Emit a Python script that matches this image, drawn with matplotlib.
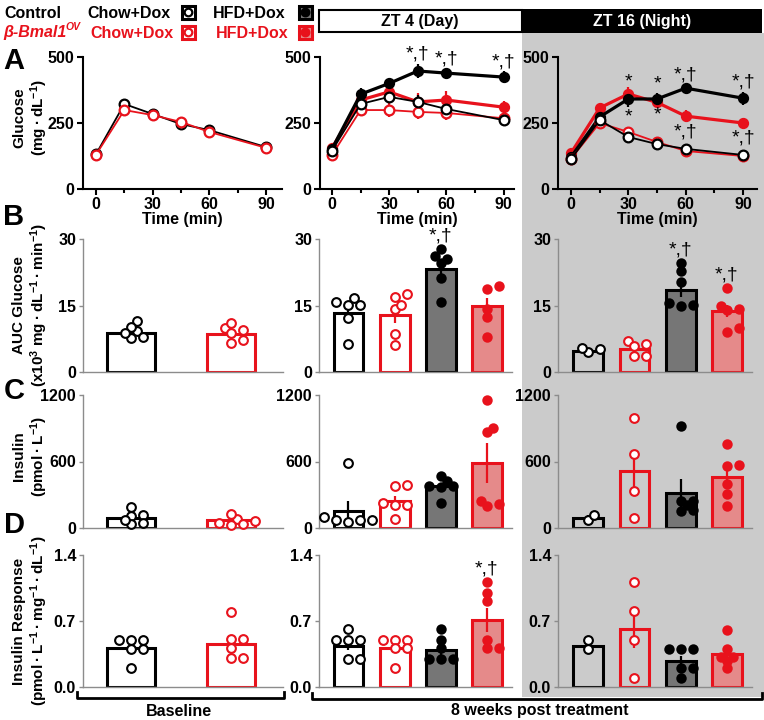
import numpy as np
import matplotlib
matplotlib.use("Agg")
import matplotlib.pyplot as plt
from matplotlib.patches import Rectangle

plt.rcParams["font.family"] = ["Liberation Sans", "DejaVu Sans"]
plt.rcParams["font.weight"] = "bold"
plt.rcParams["axes.labelweight"] = "bold"
plt.rcParams["mathtext.fontset"] = "custom"
plt.rcParams["mathtext.rm"] = "Liberation Sans:bold"
plt.rcParams["mathtext.it"] = "Liberation Sans:bold:italic"
plt.rcParams["mathtext.bf"] = "Liberation Sans:bold"
plt.rcParams["mathtext.default"] = "rm"

W, H = 764, 720
FS = 11.5
RED = "#e8121c"
LIGHT_RED = "#e58a8a"
DARK_GRAY = "#767676"
BG_GRAY = "#cbcbcb"
SPINE_GRAY = "#8c8c8c"

# ---- A: glucose tolerance (mg/dL), mean and SEM ----
time_min = [0, 15, 30, 45, 60, 90]

base_ctrl_chow = [132, 322, 284, 246, 223, 159]
base_ctrl_chow_err = [5, 20, 8, 8, 8, 5]
base_bmal_chow = [130, 299, 280, 254, 216, 156]
base_bmal_chow_err = [5, 10, 8, 8, 8, 5]

zt4_ctrl_chow = [145, 322, 349, 330, 303, 261]
zt4_ctrl_chow_err = [8, 15, 20, 25, 20, 20]
zt4_bmal_chow = [129, 299, 299, 292, 288, 268]
zt4_bmal_chow_err = [8, 15, 25, 25, 28, 20]
zt4_ctrl_hfd = [152, 359, 400, 447, 439, 424]
zt4_ctrl_hfd_err = [10, 22, 18, 28, 18, 22]
zt4_bmal_hfd = [155, 337, 368, 330, 337, 310]
zt4_bmal_hfd_err = [8, 20, 25, 35, 35, 25]

zt16_ctrl_chow = [113, 261, 197, 170, 152, 129]
zt16_ctrl_chow_err = [5, 10, 12, 8, 6, 5]
zt16_bmal_chow = [115, 250, 216, 178, 144, 125]
zt16_bmal_chow_err = [5, 12, 10, 8, 6, 5]
zt16_ctrl_hfd = [121, 273, 341, 341, 382, 344]
zt16_ctrl_hfd_err = [8, 20, 30, 22, 15, 25]
zt16_bmal_hfd = [136, 307, 360, 328, 276, 250]
zt16_bmal_hfd_err = [8, 20, 25, 20, 22, 20]

# significance marks: (time index, text, above/below, series)
zt4_marks = [(3, "*,†", "above", "ctrl_hfd"), (4, "*,†", "above", "ctrl_hfd"),
             (5, "*,†", "above", "ctrl_hfd")]
zt16_marks = [(2, "*", "above", "ctrl_hfd"), (3, "*", "above", "ctrl_hfd"),
              (4, "*,†", "above", "ctrl_hfd"), (5, "*,†", "above", "ctrl_hfd"),
              (2, "*", "below", "ctrl_hfd"), (3, "*", "below", "ctrl_hfd"),
              (4, "*,†", "below", "bmal_hfd"), (5, "*,†", "below", "bmal_hfd")]

# ---- B: AUC glucose (x10^3) ----
auc_base_mean = [8.9, 8.6]
auc_base_err = [0.6, 0.7]
auc_base_pts = [[9.2, 7.6, 11.6, 10.1, 8.0, 8.8],
                [9.5, 9.9, 11.0, 6.5, 7.3, 8.8]]
auc_zt4_mean = [13.3, 12.9, 23.3, 14.8]
auc_zt4_err = [1.5, 1.9, 1.8, 1.9]
auc_zt4_pts = [[15.9, 15.2, 15.2, 16.7, 12.2, 6.3],
               [17.0, 17.7, 14.1, 15.2, 8.6, 6.1],
               [26.1, 27.7, 24.5, 25.6, 21.3, 15.9],
               [18.7, 19.3, 14.2, 12.3, 7.8]]
auc_zt16_mean = [4.8, 5.2, 18.6, 13.7]
auc_zt16_err = [0.3, 0.7, 1.7, 1.4]
auc_zt16_pts = [[4.4, 5.5, 5.2],
                [6.4, 7.0, 5.8, 3.6, 3.6],
                [24.5, 22.7, 20.3, 15.0, 15.5, 15.2],
                [19.0, 14.2, 15.0, 14.0, 9.1, 9.9]]

# ---- C: insulin (pmol/L) ----
ins_base_mean = [90, 69]
ins_base_err = [25, 15]
ins_base_pts = [[108, 190, 115, 33, 75, 45],
                [48, 84, 124, 39, 60, 30]]
ins_zt4_mean = [157, 241, 377, 588]
ins_zt4_err = [90, 45, 30, 180]
ins_zt4_pts = [[588, 75, 75, 75, 96, 51],
               [392, 377, 226, 205, 211, 84],
               [422, 467, 383, 383, 368, 226],
               [1152, 904, 865, 196, 247, 217]]
ins_zt16_mean = [88, 517, 313, 461]
ins_zt16_err = [25, 190, 130, 85]
ins_zt16_pts = [[72, 119],
                [996, 667, 332, 88],
                [918, 204, 244, 150, 244, 160],
                [761, 564, 555, 401, 307, 197]]

# ---- D: insulin response ----
resp_base_mean = [0.41, 0.46]
resp_base_err = [0.05, 0.07]
resp_base_pts = [[0.50, 0.50, 0.50, 0.40, 0.40, 0.20],
                 [0.80, 0.51, 0.51, 0.41, 0.31, 0.31]]
resp_zt4_mean = [0.44, 0.41, 0.39, 0.71]
resp_zt4_err = [0.05, 0.04, 0.05, 0.13]
resp_zt4_pts = [[0.61, 0.50, 0.50, 0.50, 0.30, 0.30],
                [0.50, 0.50, 0.50, 0.41, 0.41, 0.20],
                [0.61, 0.50, 0.41, 0.30, 0.30, 0.30],
                [1.11, 1.00, 0.91, 0.50, 0.41, 0.41]]
resp_zt16_mean = [0.44, 0.61, 0.28, 0.35]
resp_zt16_err = [0.05, 0.20, 0.05, 0.06]
resp_zt16_pts = [[0.50, 0.40],
                 [1.11, 0.81, 0.50, 0.10],
                 [0.40, 0.40, 0.40, 0.20, 0.20, 0.10],
                 [0.60, 0.40, 0.32, 0.32, 0.20, 0.28]]

baseline_groups = ["ctrl_chow", "bmal_chow"]
treated_groups = ["ctrl_chow", "bmal_chow", "ctrl_hfd", "bmal_hfd"]


STYLE = {
    "ctrl_chow": dict(edge="black", face="white", open=True, lw=1.3),
    "bmal_chow": dict(edge=RED, face="white", open=True, lw=1.3),
    "ctrl_hfd": dict(edge="black", face=DARK_GRAY, open=False, lw=2.3),
    "bmal_hfd": dict(edge=RED, face=LIGHT_RED, open=False, lw=2.3),
}

fig = plt.figure(figsize=(W / 100, H / 100), dpi=100)

bg = fig.add_axes([0, 0, 1, 1], zorder=0)
bg.set_xlim(0, W)
bg.set_ylim(H, 0)
bg.axis("off")


def px_axes(x0, x1, y_top, y_bot):
    ax = fig.add_axes([x0 / W, 1 - y_bot / H, (x1 - x0) / W, (y_bot - y_top) / H], zorder=2)
    ax.set_facecolor("none")
    for s in ("top", "right"):
        ax.spines[s].set_visible(False)
    return ax


def style_line_axes(ax, xlim):
    ax.set_xlim(*xlim)
    ax.set_ylim(0, 500)
    ax.set_yticks([0, 250, 500])
    ax.set_xticks([0, 30, 60, 90])
    ax.set_xticks([15, 45, 75], minor=True)
    for s in ("left", "bottom"):
        ax.spines[s].set_linewidth(1.5)
    ax.tick_params(which="both", width=1.5, length=4, labelsize=FS, pad=2)
    ax.tick_params(which="minor", length=3)
    ax.set_xlabel("Time (min)", fontsize=FS, labelpad=0)


def line_panel(ax, series, xlim):
    for name, mean, err in series:
        st = STYLE[name]
        z = 5 if st["open"] else 3
        ax.errorbar(time_min, mean, yerr=err, fmt="none", ecolor=st["edge"],
                    elinewidth=1.6, capsize=0, zorder=z - 1)
        ax.plot(time_min, mean, "-o", color=st["edge"], lw=st["lw"],
                ms=7 if st["open"] else 6.5,
                mfc="white" if st["open"] else st["edge"],
                mec=st["edge"], mew=1.6, zorder=z, clip_on=False)
    style_line_axes(ax, xlim)


def add_marks(ax, marks, lookup):
    for idx, txt, side, name in marks:
        mean, err = lookup[name]
        if side == "above":
            ax.text(time_min[idx], mean[idx] + err[idx] + 4, txt, ha="center",
                    va="bottom", fontsize=14, fontweight="normal", zorder=6)
        else:
            ax.text(time_min[idx], mean[idx] - err[idx] - 6, txt, ha="center",
                    va="top", fontsize=14, fontweight="normal", zorder=6)


def swarm(values, px_per_unit, dist=7.0, step=6.0):
    order = np.argsort(values, kind="stable")
    placed = []
    offsets = np.zeros(len(values))
    for i in order:
        y = values[i] * px_per_unit
        k = 0
        while True:
            cand = ((k + 1) // 2) * step * (1 if k % 2 else -1) if k else 0.0
            if all((cand - px) ** 2 + (y - py) ** 2 >= dist ** 2 for px, py in placed):
                break
            k += 1
        placed.append((cand, y))
        offsets[i] = cand
    return offsets


def bar_panel(ax, names, means, errs, pts, width, xlim, ylim, yticks, ticklabels,
              night=False, marks=()):
    ax.set_xlim(*xlim)
    ax.set_ylim(*ylim)
    bbox = ax.get_position()
    ax_w = bbox.width * W
    ax_h = bbox.height * H
    px_x = ax_w / (xlim[1] - xlim[0])
    px_y = ax_h / (ylim[1] - ylim[0])
    for i, name in enumerate(names):
        st = STYLE[name]
        face = st["face"]
        if night and st["open"]:
            face = "none"
        ax.bar(i, means[i], width=width, facecolor=face, edgecolor=st["edge"],
               linewidth=2.2, zorder=2)
        ax.plot([i, i], [means[i] - errs[i], means[i] + errs[i]], color=st["edge"],
                lw=1.6, zorder=3, solid_capstyle="butt")
        vals = np.array(pts[i], dtype=float)
        offs = swarm(vals, px_y) / px_x
        ax.plot(i + offs, vals, "o", ms=6.3 if st["open"] else 6,
                mfc="white" if st["open"] else st["edge"], mec=st["edge"],
                mew=1.5, ls="none", zorder=4, clip_on=False)
    for i, txt in marks:
        top = max(pts[i])
        ax.text(i, top + (ylim[1] - ylim[0]) * 0.035, txt, ha="center", va="bottom",
                fontsize=14, fontweight="normal", zorder=6)
    ax.set_xticks([])
    ax.set_yticks(yticks)
    ax.set_yticklabels(ticklabels)
    for s in ("left", "bottom"):
        ax.spines[s].set_color(SPINE_GRAY)
        ax.spines[s].set_linewidth(1.0)
    ax.tick_params(axis="y", color=SPINE_GRAY, width=1, length=3, labelsize=FS, pad=2)


# ---- background, headers ----
bg.add_patch(Rectangle((522, 33), W - 522, 697 - 33, facecolor=BG_GRAY, lw=0))
bg.add_patch(Rectangle((318.5, 10), 203, 22, facecolor="white", edgecolor="black", lw=1.5))
bg.add_patch(Rectangle((522, 9), 240, 23.5, facecolor="black", lw=0))
bg.text(420, 21.5, "ZT 4 (Day)", ha="center", va="center", fontsize=FS)
bg.text(642, 21.5, "ZT 16 (Night)", ha="center", va="center", fontsize=FS, color="white")

# ---- legend ----
bg.text(4, 13, "Control", ha="left", va="center", fontsize=FS)
bg.text(87, 13, "Chow+Dox", ha="left", va="center", fontsize=FS)
bg.text(213, 13, "HFD+Dox", ha="left", va="center", fontsize=FS)
bg.text(3, 33, "β-Bmal1", ha="left", va="center", fontsize=FS, color=RED, style="italic")
bg.text(66, 27, "OV", ha="left", va="center", fontsize=7.5, color=RED, style="italic")
bg.text(90, 33, "Chow+Dox", ha="left", va="center", fontsize=FS, color=RED)
bg.text(216, 33, "HFD+Dox", ha="left", va="center", fontsize=FS, color=RED)
for (x, y, name) in [(188, 12, "ctrl_chow"), (305, 12, "ctrl_hfd"),
                     (188, 32, "bmal_chow"), (305, 32, "bmal_hfd")]:
    st = STYLE[name]
    bg.add_patch(Rectangle((x - 6.5, y - 6.5), 13, 13, facecolor=st["face"],
                           edgecolor=st["edge"], lw=2.2))
    bg.plot(x, y, "o", ms=5.5, mfc="white" if st["open"] else st["edge"],
            mec=st["edge"], mew=1.6)

# ---- panel letters and y labels (one text per line) ----
for letter, y in [("A", 61), ("B", 217), ("C", 391), ("D", 525)]:
    bg.text(14, y, letter, ha="center", va="center", fontsize=21)
dot = "\u2009·\u2009"
ylabels = [(118, "Glucose", "(mg" + dot + "dL$^{-1}$)"),
           (305, "AUC Glucose", "(x10$^{3}$ mg" + dot + "dL$^{-1}$" + dot + "min$^{-1}$)"),
           (456, "Insulin", "(pmol" + dot + "L$^{-1}$)"),
           (621, "Insulin Response",
            "(pmol" + dot + "L$^{-1}$" + dot + "mg$^{-1}$" + dot + "dL$^{-1}$)")]
for y, line1, line2 in ylabels:
    bg.text(19, y, line1, ha="center", va="center", rotation=90, fontsize=11)
    bg.text(39, y, line2, ha="center", va="center", rotation=90, fontsize=11)

# ---- bottom brackets ----
bg.plot([77, 77, 284, 284], [692, 698, 698, 692], color="black", lw=2)
bg.plot([312, 312, 762, 762], [693, 699, 699, 693], color="black", lw=2)
bg.text(179, 711, "Baseline", ha="center", va="center", fontsize=FS)
bg.text(540, 711, "8 weeks post treatment", ha="center", va="center", fontsize=FS)

# ---- row A ----
ax = px_axes(83, 282, 57, 189)
line_panel(ax, [("ctrl_chow", base_ctrl_chow, base_ctrl_chow_err),
                ("bmal_chow", base_bmal_chow, base_bmal_chow_err)], (-6.9, 98.5))

ax = px_axes(320, 514, 57, 189)
zt4_lookup = {"ctrl_hfd": (zt4_ctrl_hfd, zt4_ctrl_hfd_err),
              "bmal_hfd": (zt4_bmal_hfd, zt4_bmal_hfd_err)}
line_panel(ax, [("bmal_hfd", zt4_bmal_hfd, zt4_bmal_hfd_err),
                ("ctrl_hfd", zt4_ctrl_hfd, zt4_ctrl_hfd_err),
                ("bmal_chow", zt4_bmal_chow, zt4_bmal_chow_err),
                ("ctrl_chow", zt4_ctrl_chow, zt4_ctrl_chow_err)], (-6.3, 95.5))
add_marks(ax, zt4_marks, zt4_lookup)

ax = px_axes(558, 757, 57, 189)
zt16_lookup = {"ctrl_hfd": (zt16_ctrl_hfd, zt16_ctrl_hfd_err),
               "bmal_hfd": (zt16_bmal_hfd, zt16_bmal_hfd_err)}
line_panel(ax, [("bmal_hfd", zt16_bmal_hfd, zt16_bmal_hfd_err),
                ("ctrl_hfd", zt16_ctrl_hfd, zt16_ctrl_hfd_err),
                ("bmal_chow", zt16_bmal_chow, zt16_bmal_chow_err),
                ("ctrl_chow", zt16_ctrl_chow, zt16_ctrl_chow_err)], (-6.8, 97.3))
add_marks(ax, zt16_marks, zt16_lookup)

# ---- rows B, C, D ----
rows = [
    (239, 372, (0, 30), [0, 15, 30], ["0", "15", "30"],
     (auc_base_mean, auc_base_err, auc_base_pts),
     (auc_zt4_mean, auc_zt4_err, auc_zt4_pts, [(2, "*,†")]),
     (auc_zt16_mean, auc_zt16_err, auc_zt16_pts, [(2, "*,†"), (3, "*,†")])),
    (395, 528, (0, 1200), [0, 600, 1200], ["0", "600", "1200"],
     (ins_base_mean, ins_base_err, ins_base_pts),
     (ins_zt4_mean, ins_zt4_err, ins_zt4_pts, []),
     (ins_zt16_mean, ins_zt16_err, ins_zt16_pts, [])),
    (555, 687, (0, 1.4), [0, 0.7, 1.4], ["0.0", "0.7", "1.4"],
     (resp_base_mean, resp_base_err, resp_base_pts),
     (resp_zt4_mean, resp_zt4_err, resp_zt4_pts, [(3, "*,†")]),
     (resp_zt16_mean, resp_zt16_err, resp_zt16_pts, [])),
]

for y_top, y_bot, ylim, yt, ytl, base, zt4, zt16 in rows:
    ax = px_axes(83, 283, y_top, y_bot)
    bar_panel(ax, baseline_groups, *base, width=0.48, xlim=(-0.48, 1.52),
              ylim=ylim, yticks=yt, ticklabels=ytl)
    ax = px_axes(319, 512, y_top, y_bot)
    bar_panel(ax, treated_groups, *zt4[:3], width=0.65, xlim=(-0.64, 3.55),
              ylim=ylim, yticks=yt, ticklabels=ytl, marks=zt4[3])
    ax = px_axes(558, 752, y_top, y_bot)
    bar_panel(ax, treated_groups, *zt16[:3], width=0.65, xlim=(-0.66, 3.55),
              ylim=ylim, yticks=yt, ticklabels=ytl, night=True, marks=zt16[3])

fig.savefig("out.png", dpi=100)
